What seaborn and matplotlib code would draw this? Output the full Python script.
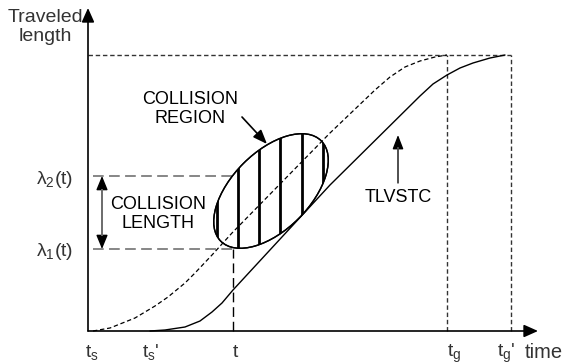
import matplotlib
matplotlib.use("Agg")
import numpy as np
import pandas as pd
import seaborn as sns
import matplotlib.pyplot as plt
from matplotlib.patches import Ellipse, FancyArrowPatch

# ---------------- data (diagram units: time → x, traveled length → y) ----------------
# solid curve: TLVSTC starting at t_s'
solid_t = [62, 77, 97, 112, 124, 134, 145, 157, 242, 332, 345, 359, 372, 385, 402, 417]
solid_L = [0, 1, 4, 10, 19, 28, 41, 54, 146, 235, 247, 256, 263, 268, 273, 276]
# dashed curve: trajectory starting at t_s
dash_t = [5, 22, 47, 67, 80, 97, 107, 124, 144, 242, 287, 302, 317, 332, 347, 359]
dash_L = [0, 3, 13, 25, 34, 48, 58, 76, 98, 198, 241, 254, 264, 270, 274, 276]

tick_times = [5, 62, 145, 359, 423]          # t_s, t_s', t, t_g, t_g'
tick_labels = ["$t_s$", "$t_s$'", "$t$", "$t_g$", "$t_g$'"]
tick_label_x = [-3, 54, 144, 359, 409]
L_max = 276
lambda_vals = [82, 155]                       # lambda_1(t), lambda_2(t)
lambda_labels = [r"$\lambda_1$(t)", r"$\lambda_2$(t)"]
hatch_t = [129, 150, 171, 192, 214, 235]
region_center = (183, 140)
region_size = (142, 78)
region_angle = 45

# ---------------- style ----------------
sns.set_theme(style="white")
plt.rcParams["font.family"] = ["Liberation Sans", "DejaVu Sans"]
plt.rcParams["mathtext.fontset"] = "custom"
plt.rcParams["mathtext.rm"] = "Liberation Sans"
plt.rcParams["mathtext.it"] = "Liberation Sans"
plt.rcParams["mathtext.default"] = "regular"

fig = plt.figure(figsize=(5.73, 3.64), dpi=100)
ax = fig.add_axes([0, 0, 1, 1])
ax.set_xlim(-88, 485)
ax.set_ylim(-33, 331)
ax.axis("off")

t_idx = tick_times[2]
tg, tgp = tick_times[3], tick_times[4]
ts = tick_times[0]

# guide lines
fine = (0, (3.2, 2.0))
ax.plot([0, tgp], [L_max, L_max], color="#333333", lw=1.0, ls=fine)
ax.plot([tg, tg], [0, L_max], color="#333333", lw=1.0, ls=fine)
ax.plot([tgp, tgp], [0, L_max], color="#333333", lw=1.0, ls=fine)
for lv in lambda_vals:
    ax.plot([ts, t_idx], [lv, lv], color="#666666", lw=1.1, ls=(0, (7, 3.5)))
ax.plot([t_idx, t_idx], [0, lambda_vals[0]], color="black", lw=1.0, ls=(0, (7, 3.5)))

# curves
sns.lineplot(x=solid_t, y=solid_L, sort=False, estimator=None, color="black",
             lw=1.0, ax=ax)

# collision region ellipse with vertical hatching
ell = Ellipse(region_center, region_size[0], region_size[1], angle=region_angle,
              facecolor="white", edgecolor="black", lw=1.0, zorder=3)
ax.add_patch(ell)
hl = ax.vlines(hatch_t, -20, 330, colors="black", lw=2.0, zorder=4)
hl.set_clip_path(ell)
ell2 = Ellipse(region_center, region_size[0], region_size[1], angle=region_angle,
               facecolor="none", edgecolor="black", lw=1.0, zorder=5)
ax.add_patch(ell2)
# dashed curve over ellipse
sns.lineplot(x=dash_t, y=dash_L, sort=False, estimator=None, color="black",
             lw=0.9, linestyle=(0, (3.5, 2.2)), ax=ax, zorder=6)

# axes arrows
for p0, p1 in [((0, 0), (0, 323)), ((0, 0), (450, 0))]:
    ax.add_patch(FancyArrowPatch(p0, p1, arrowstyle="-|>,head_length=0.85,head_width=0.38",
                                 mutation_scale=10, color="black", lw=1.2,
                                 shrinkA=0, shrinkB=0, zorder=7))

def arrow(p0, p1, style, shaft_from, shaft_to, shaft_color):
    ax.add_patch(FancyArrowPatch(p0, p1, arrowstyle=style, mutation_scale=10,
                                 color="black", lw=1.0, shrinkA=0, shrinkB=0, zorder=7))
    ax.plot([shaft_from[0], shaft_to[0]], [shaft_from[1], shaft_to[1]],
            color=shaft_color, lw=1.2, zorder=8, solid_capstyle="butt")

# collision length double arrow
arrow((14, lambda_vals[0]), (14, lambda_vals[1]),
      "<|-|>,head_length=0.85,head_width=0.35",
      (14, lambda_vals[0] + 13), (14, lambda_vals[1] - 13), "#777777")
# TLVSTC arrow
arrow((310, 148), (310, 196), "-|>,head_length=0.85,head_width=0.33",
      (310, 148), (310, 184), "#555555")
# collision region arrow
ax.add_patch(FancyArrowPatch((154, 214), (179, 187),
                             arrowstyle="-|>,head_length=0.85,head_width=0.33",
                             mutation_scale=10, color="black", lw=1.2,
                             shrinkA=0, shrinkB=0, zorder=7))

# texts
gray = "#333333"
ax.text(-43, 304, "Traveled\nlength", ha="center", va="center", fontsize=14,
        color=gray, linespacing=1.2)
for lv, lab in zip(lambda_vals, lambda_labels):
    ax.text(-33, lv - 3, lab, ha="center", va="center", fontsize=14, color=gray)
for x, lab in zip(tick_label_x, tick_labels):
    ax.text(x, -26, lab, ha="left", va="baseline", fontsize=14, color=gray)
ax.text(437, -27, "time", ha="left", va="baseline", fontsize=14.5, color=gray)

ax.text(70, 117, "COLLISION\nLENGTH", ha="center", va="center", fontsize=13,
        color="black", linespacing=1.2)
ax.text(102, 222, "COLLISION\nREGION", ha="center", va="center", fontsize=13,
        color="black", linespacing=1.2)
ax.text(310, 133, "TLVSTC", ha="center", va="center", fontsize=13, color="black")

fig.savefig("out.png", dpi=100)
